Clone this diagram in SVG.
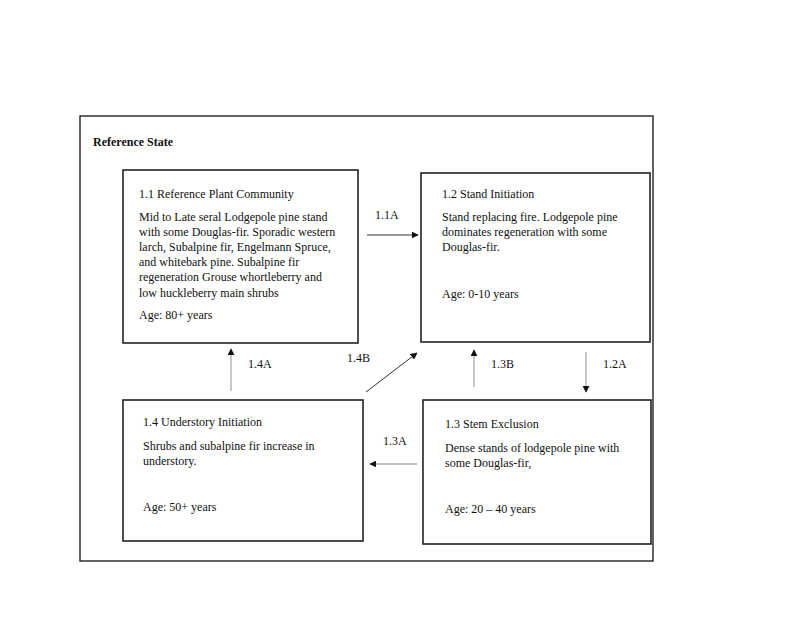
<svg xmlns="http://www.w3.org/2000/svg" width="800" height="618" viewBox="0 0 800 618">
<style>
text{font-family:"Liberation Serif","Times New Roman",serif;fill:#111;font-size:12px}
.b{font-weight:bold}
.box{fill:#fff;stroke:#222;stroke-width:1.6}
.c{stroke:#333;stroke-width:1;fill:none;marker-end:url(#ah)}
.g{stroke:#aaa;stroke-width:1.3;fill:none;marker-end:url(#ah)}
</style>
<defs>
<marker id="ah" viewBox="0 0 10 10" refX="9" refY="5" markerWidth="7" markerHeight="7" markerUnits="userSpaceOnUse" orient="auto">
<path d="M0,0 L10,5 L0,10 z" fill="#111"/>
</marker>
</defs>
<rect width="800" height="618" fill="#fff"/>
<rect x="80" y="116" width="573" height="445" fill="none" stroke="#222" stroke-width="1.4"/>
<text class="b" x="93" y="146">Reference State</text>
<g id="n11">
<rect class="box" x="123" y="170" width="235" height="173"/>
<text x="139" y="198">1.1 Reference Plant Community</text>
<text x="139" y="221">Mid to Late seral Lodgepole pine stand</text>
<text x="139" y="236">with some Douglas-fir. Sporadic western</text>
<text x="139" y="251">larch, Subalpine fir, Engelmann Spruce,</text>
<text x="139" y="266">and whitebark pine. Subalpine fir</text>
<text x="139" y="281">regeneration Grouse whortleberry and</text>
<text x="139" y="297">low huckleberry main shrubs</text>
<text x="139" y="319">Age: 80+ years</text>
</g>
<g id="n12">
<rect class="box" x="421" y="173" width="229" height="169"/>
<text x="442" y="198">1.2 Stand Initiation</text>
<text x="442" y="221">Stand replacing fire. Lodgepole pine</text>
<text x="442" y="236">dominates regeneration with some</text>
<text x="442" y="251">Douglas-fir.</text>
<text x="442" y="298">Age: 0-10 years</text>
</g>
<g id="n14">
<rect class="box" x="123" y="400" width="240" height="141"/>
<text x="143" y="426">1.4 Understory Initiation</text>
<text x="143" y="450">Shrubs and subalpine fir increase in</text>
<text x="143" y="465">understory.</text>
<text x="143" y="511">Age: 50+ years</text>
</g>
<g id="n13">
<rect class="box" x="423" y="400" width="228" height="144"/>
<text x="445" y="428">1.3 Stem Exclusion</text>
<text x="445" y="452">Dense stands of lodgepole pine with</text>
<text x="445" y="467">some Douglas-fir,</text>
<text x="445" y="513">Age: 20 – 40 years</text>
</g>
<g id="connectors">
<line class="c" x1="367" y1="235" x2="418" y2="235"/>
<text x="375" y="219">1.1A</text>
<line class="g" x1="231" y1="391" x2="231" y2="349"/>
<text x="248" y="368">1.4A</text>
<line class="c" x1="366" y1="392" x2="417" y2="353"/>
<text x="347" y="362">1.4B</text>
<line class="g" x1="474" y1="387" x2="474" y2="350"/>
<text x="491" y="368">1.3B</text>
<line class="g" x1="586" y1="352" x2="586" y2="392"/>
<text x="603" y="368">1.2A</text>
<line class="g" x1="417" y1="464" x2="370" y2="464"/>
<text x="383" y="445">1.3A</text>
</g>
</svg>
